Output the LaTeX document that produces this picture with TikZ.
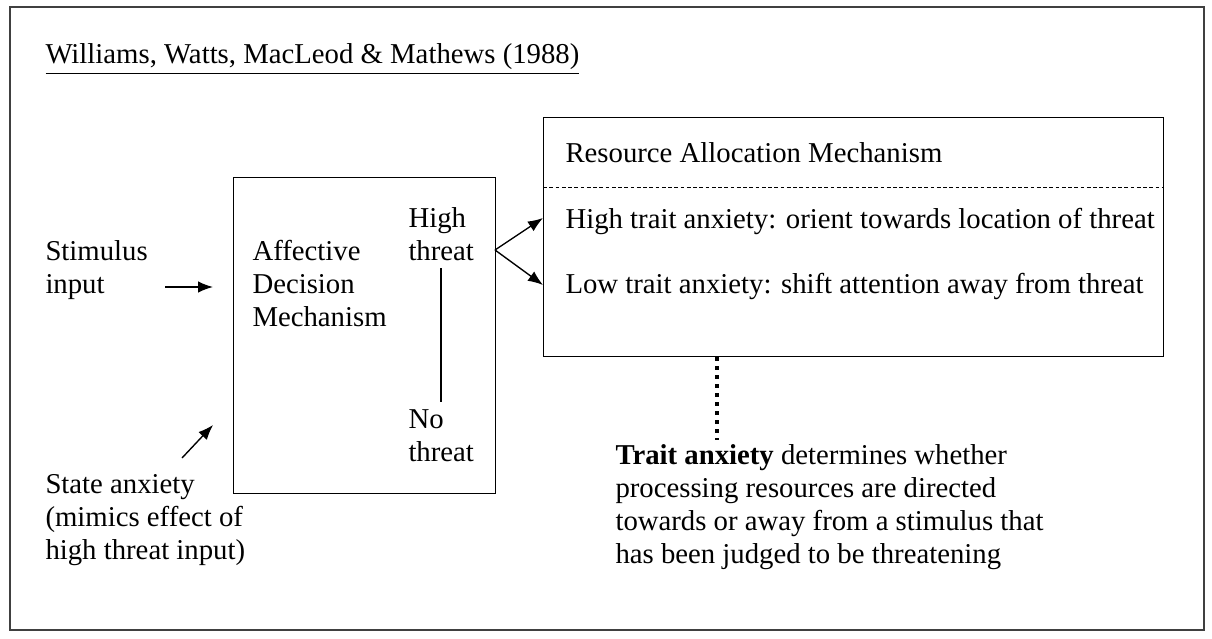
\documentclass[tikz,border=0pt]{standalone}
\usepackage{fontspec}
\setmainfont{Liberation Serif}
\usetikzlibrary{arrows.meta}

\begin{document}
\begin{tikzpicture}[x=0.4pt, y=-0.4pt, >={Latex[length=6pt,width=4.6pt]},
    txt/.style={align=left, inner sep=0pt, anchor=north west,
        font=\fontsize{11.5}{13.2}\selectfont},
    box/.style={draw, line width=0.55pt, inner sep=0pt, anchor=north west},
    link/.style={->, line width=0.55pt}]

\useasboundingbox (0,0) rectangle (1212,639);

% Rahmen
\draw[black!75, line width=0.9pt] (10,7) rectangle (1204,630);

% Titel
\node[txt, anchor=base west] (title) at (45,64)
    {\underline{Williams, Watts, MacLeod \& Mathews (1988)}};

% Eingaben
\node[txt] (stim) at (45,240) {Stimulus\\input};
\node[txt] (state) at (45,474) {State anxiety\\(mimics effect of\\high threat input)};

% Affective Decision Mechanism
\node[box, minimum width=104.8pt, minimum height=126.4pt] (adm) at (233,177) {};
\node[txt] (admtext) at (252,240) {Affective\\Decision\\Mechanism};
\node[txt] (high) at (408,207) {High\\threat};
\node[txt] (none) at (408,409) {No\\threat};
\draw[line width=0.5pt] (441,268) -- (441,402);

% Resource Allocation Mechanism
\node[box, minimum width=248pt, minimum height=95.6pt] (ram) at (543,117) {};
\node[txt] (ramhead) at (565,142) {Resource Allocation Mechanism};
\draw[line width=0.4pt, dash pattern=on 1.5pt off 1pt]
    (ram.west |- 0,187) -- (ram.east |- 0,187);
\node[txt] (hta) at (565,208) {High trait anxiety: orient towards location of threat};
\node[txt] (lta) at (565,273) {Low trait anxiety: shift attention away from threat};

% Pfeile
\coordinate (fork) at (495,250);
\draw[link] (fork) -- (ram.west |- 0,218);
\draw[link] (fork) -- (ram.west |- 0,285);

\coordinate (stim-out) at (165,287);
\draw[link] (stim-out) -- (213,287);
\coordinate (state-out) at (182,458);
\draw[link] (state-out) -- (213,425);

% Trait anxiety
\coordinate (trait-in) at (717,440);
\draw[dotted, line width=1.6pt] (ram.south -| trait-in) -- (trait-in);
\node[txt] (trait) at (615,444) {\textbf{Trait anxiety} determines whether\\
    processing resources are directed\\
    towards or away from a stimulus that\\
    has been judged to be threatening};

\end{tikzpicture}
\end{document}
